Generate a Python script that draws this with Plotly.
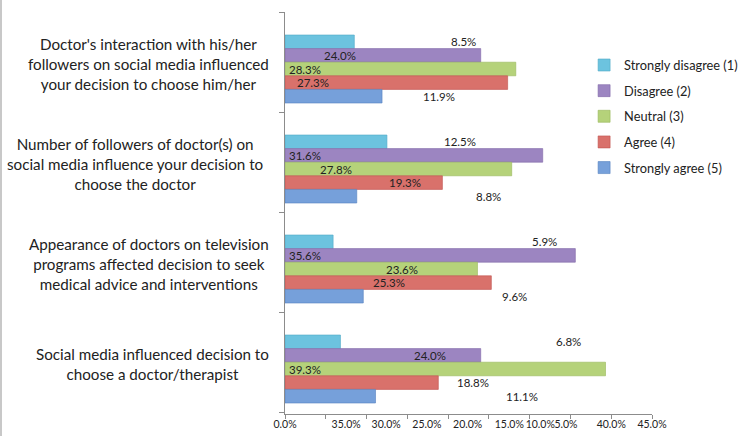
import plotly.graph_objects as go

# ---- data ----
categories = [
    "Doctor's interaction with his/her<br>followers on social media influenced<br>your decision to choose him/her",
    "Number of followers of doctor(s) on<br>social media influence your decision to<br>choose the doctor",
    "Appearance of doctors on television<br>programs affected decision to seek<br>medical advice and interventions",
    "Social media influenced decision to<br>choose a doctor/therapist",
]
series_names = ["Strongly disagree (1)", "Disagree (2)", "Neutral (3)", "Agree (4)", "Strongly agree (5)"]
strongly_disagree = [8.5, 12.5, 5.9, 6.8]
disagree = [24.0, 31.6, 35.6, 24.0]
neutral = [28.3, 27.8, 23.6, 39.3]
agree = [27.3, 19.3, 25.3, 18.8]
strongly_agree = [11.9, 8.8, 9.6, 11.1]
series_values = [strongly_disagree, disagree, neutral, agree, strongly_agree]

# x tick labels as printed in the source (garbled order kept)
x_tick_text = ["0.0%", "35.0%", "30.0%", "25.0%", "20.0%", "15.0%", "10.0%", "5.0%", "40.0%", "45.0%"]

# ---- layout / style ----
x_tick_label_pos = [0, 7.5, 12.4, 17.4, 22.4, 27.5, 31.3, 34.45, 40.0, 45.0]
x_tick_mark_pos = [0, 5, 10, 15, 20, 25, 30, 35, 40, 45]
y_tick_mark_pos = [-0.57, 0.435, 1.43, 2.43, 3.43]
colors = ["#6cc3df", "#9c85c1", "#b5d27a", "#d9716b", "#76a0da"]
line_colors = ["#4fa9c6", "#8066a6", "#98b75a", "#bf524d", "#5682c0"]
# label x placements (data units), per series per category, as in the source
label_x = [
    [21.9, 21.5, 31.8, 34.7],
    [6.7, 2.4, 2.4, 17.8],
    [2.5, 6.25, 14.4, 2.4],
    [3.4, 14.75, 12.8, 23.0],
    [18.9, 24.9, 28.2, 29.1],
]
cat_label_px = [148, 135, 149, 152]
bargap = 0.32
FONT = "Lato, 'Open Sans', sans-serif"
TXT = "#222222"

M_L, M_R, M_T, M_B = 285, 98, 12, 22
W, H = 750, 436
plot_w = W - M_L - M_R
plot_h = H - M_T - M_B

ypos = list(range(len(categories)))

fig = go.Figure()
for name, vals, c, lc in zip(series_names, series_values, colors, line_colors):
    fig.add_trace(go.Bar(
        y=ypos, x=vals, name=name, orientation="h",
        marker=dict(color=c, line=dict(color=lc, width=0.6)),
        legendgroup=name, hoverinfo="skip",
    ))

# data labels
n = len(series_names)
group_w = 1 - bargap
bar_w = group_w / n
annotations = []
for i, (vals, lx) in enumerate(zip(series_values, label_x)):
    off = -group_w / 2 + bar_w * (i + 0.5)
    for j, v in enumerate(vals):
        annotations.append(dict(
            x=lx[j], y=ypos[j] + off, xref="x", yref="y",
            text=f"{v:.1f}%", showarrow=False, xanchor="center", yanchor="middle",
            font=dict(family=FONT, size=11.5, color=TXT),
        ))

# category labels
for j, cat in enumerate(categories):
    annotations.append(dict(
        x=(cat_label_px[j] - M_L) / plot_w, y=ypos[j], xref="paper", yref="y",
        yshift=5, text=cat, showarrow=False, xanchor="center", yanchor="middle",
        align="center", font=dict(family=FONT, size=15.2, color=TXT),
    ))

fig.update_layout(
    width=W, height=H,
    margin=dict(l=M_L, r=M_R, t=M_T, b=M_B, pad=0, autoexpand=False),
    paper_bgcolor="white", plot_bgcolor="white",
    barmode="group", bargap=bargap, bargroupgap=0,
    font=dict(family=FONT, color=TXT),
    annotations=annotations,
    legend=dict(
        x=0.815, y=0.905, xanchor="left", yanchor="top",
        font=dict(family=FONT, size=12.8, color=TXT),
        tracegroupgap=6, bgcolor="rgba(0,0,0,0)",
    ),
    showlegend=True,
    shapes=[dict(type="line", xref="paper", yref="paper",
                 x0=(1 - M_L) / plot_w, x1=(1 - M_L) / plot_w,
                 y0=-M_B / plot_h, y1=1 + M_T / plot_h,
                 line=dict(color="#c8c8c8", width=2))],
)
fig.update_xaxes(
    range=[0, 45], showgrid=False, zeroline=False, automargin=False,
    showline=True, linecolor="#8c8c8c", linewidth=1,
    tickmode="array", tickvals=x_tick_label_pos, ticktext=x_tick_text,
    ticks="", ticklen=0, tickangle=0,
    tickfont=dict(family=FONT, size=10.5, color=TXT),
    minor=dict(tickmode="array", tickvals=x_tick_mark_pos, ticks="outside",
               ticklen=4, tickcolor="#8c8c8c", showgrid=False),
)
fig.update_yaxes(
    range=[3.45, -0.57], showgrid=False, zeroline=False, automargin=False,
    showline=True, linecolor="#8c8c8c", linewidth=1,
    tickmode="array", tickvals=y_tick_mark_pos, showticklabels=False,
    ticks="outside", ticklen=5, tickcolor="#8c8c8c",
)

fig.write_html("out.html")
